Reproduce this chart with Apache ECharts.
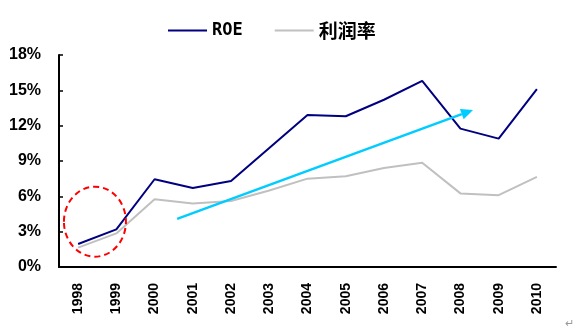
<!DOCTYPE html>
<html><head><meta charset="utf-8">
<script src="https://cdn.jsdelivr.net/npm/echarts@6/dist/echarts.min.js"></script>
<style>html,body{margin:0;padding:0;background:#fff}#c{width:583px;height:335px}</style>
</head><body><div id="c"></div>
<script>
const years = ['1998','1999','2000','2001','2002','2003','2004','2005','2006','2007','2008','2009','2010'];
const roe = [1.95, 3.2, 7.45, 6.7, 7.3, 10.1, 12.9, 12.8, 14.2, 15.8, 11.75, 10.9, 15.1];
const margin = [1.65, 2.85, 5.75, 5.4, 5.6, 6.5, 7.5, 7.7, 8.4, 8.85, 6.25, 6.1, 7.65];
const seriesNames = ['ROE', '利润率'];
// annotation anchors in data space: [category index (fractional), value %]
const arrowStart = [2.59, 4.08];
const arrowEnd = [10.33, 13.33];
const circleCenter = [0.44, 3.85];

const chart = echarts.init(document.getElementById('c'));
const option = {
  animation: false,
  backgroundColor: '#fff',
  legend: {
    top: 21, left: 168, padding: 0, itemWidth: 39, itemHeight: 14, itemGap: 32,
    icon: 'path://M0,6 L39,6 L39,8 L0,8 Z',
    formatter: function (n) { return n === seriesNames[0] ? '{a|' + n + '}' : '{b|' + n + '}'; },
    textStyle: {
      color: '#000',
      rich: {
        a: { fontSize: 17, fontWeight: 'bold', color: '#000', fontFamily: '"DejaVu Sans Mono","Liberation Mono",monospace' },
        b: { fontSize: 19, fontWeight: 'bold', color: '#000', fontFamily: '"Noto Sans CJK SC",sans-serif' }
      }
    },
    data: [{name: seriesNames[0], itemStyle:{color:'#000080'}}, {name: seriesNames[1], itemStyle:{color:'#C0C0C0'}}]
  },
  grid: { left: 59, right: 27, top: 55, bottom: 68 },
  xAxis: {
    type: 'category', data: years, boundaryGap: true,
    axisLine: { lineStyle: { color: '#000', width: 2 } },
    axisTick: { inside: true, length: 5, lineStyle: { color: '#000', width: 1.5 } },
    axisLabel: { rotate: 90, margin: 16, fontSize: 14, fontWeight: 'bold', color: '#000', fontFamily: '"Liberation Sans",Arial,sans-serif' }
  },
  yAxis: {
    type: 'value', min: 0, max: 18, interval: 3,
    axisLine: { show: true, lineStyle: { color: '#000', width: 2 } },
    axisTick: { show: true, inside: true, length: 4, lineStyle: { color: '#000', width: 1.5 } },
    splitLine: { show: false },
    axisLabel: { formatter: '{value}%', margin: 18, fontSize: 16, fontWeight: 'bold', color: '#000', fontFamily: '"Liberation Sans",Arial,sans-serif' }
  },
  series: [
    { name: seriesNames[0], type: 'line', data: roe, symbol: 'none', lineStyle: { color: '#000080', width: 2 }, itemStyle:{color:'#000080'}, z: 3 },
    { name: seriesNames[1], type: 'line', data: margin, symbol: 'none', lineStyle: { color: '#C0C0C0', width: 2 }, itemStyle:{color:'#C0C0C0'}, z: 2 }
  ]
};
chart.setOption(option);

function toPx(p) {
  const i0 = Math.floor(p[0]);
  const a = chart.convertToPixel({gridIndex: 0}, [i0, p[1]]);
  const b = chart.convertToPixel({gridIndex: 0}, [i0 + 1, p[1]]);
  const f = p[0] - i0;
  return [a[0] + (b[0] - a[0]) * f, a[1]];
}
const s = toPx(arrowStart), e = toPx(arrowEnd), c = toPx(circleCenter);
const ang = Math.atan2(e[1] - s[1], e[0] - s[0]);
const hl = 12, hw = 5.5;
const base = [e[0] - hl * Math.cos(ang), e[1] - hl * Math.sin(ang)];
const p1 = [base[0] + hw * Math.sin(ang), base[1] - hw * Math.cos(ang)];
const p2 = [base[0] - hw * Math.sin(ang), base[1] + hw * Math.cos(ang)];
chart.setOption({
  graphic: [
    { type: 'line', shape: { x1: s[0], y1: s[1], x2: base[0], y2: base[1] }, style: { stroke: '#00CCFF', lineWidth: 2.5 }, z: 10 },
    { type: 'polygon', shape: { points: [e, p1, p2] }, style: { fill: '#00CCFF' }, z: 10 },
    { type: 'ellipse', shape: { cx: c[0], cy: c[1], rx: 31, ry: 35 }, style: { fill: 'none', stroke: '#FF0000', lineWidth: 2, lineDash: [6, 4] }, z: 10 },
    { type: 'text', left: 565, top: 318, style: { text: '↵', fill: '#999', fontSize: 11 } }
  ]
});
</script></body></html>
